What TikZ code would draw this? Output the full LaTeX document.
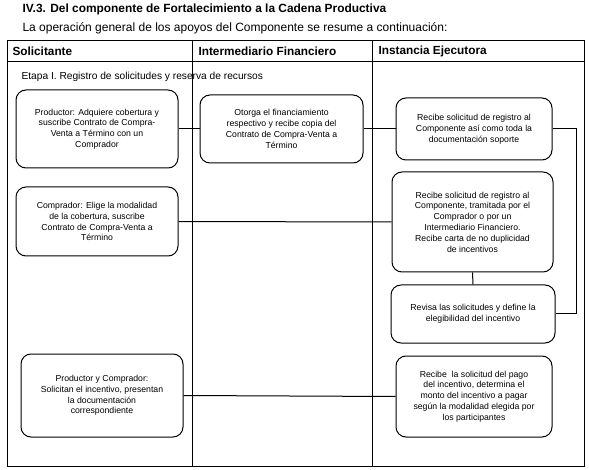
\documentclass[tikz,border=0pt]{standalone}
\usepackage{fontspec}
\setmainfont{Liberation Sans}
\usetikzlibrary{positioning}
\tikzset{
  paso/.style={draw, line width=1pt, rounded corners=10pt, align=center, inner sep=2pt,
    font=\fontsize{8.7}{10.8}\selectfont},
  enc/.style={anchor=west, font=\bfseries\fontsize{11.8}{14}\selectfont},
  liga/.style={line width=1pt}
}
\begin{document}
\begin{tikzpicture}[x=1pt, y=-1pt]
\useasboundingbox (0,0) rectangle (589,470);
% titulo
\node[anchor=west, font=\bfseries\fontsize{11.9}{14}\selectfont] (titulo) at (19,9) {IV.3. Del componente de Fortalecimiento a la Cadena Productiva};
\node[anchor=west, font=\fontsize{12}{14}\selectfont] (intro) at (19,28) {La operación general de los apoyos del Componente se resume a continuación:};
% tabla
\draw[line width=1pt] (7,41) rectangle (584,466);
\draw[line width=1pt] (7,62) -- (584,62);
\draw[line width=1pt] (192,41) -- (192,466);
\draw[line width=1pt] (372,41) -- (372,466);
\node[enc] (solic) at (9,51.5) {Solicitante};
\node[enc] (inter) at (195,51.5) {Intermediario Financiero};
\node[enc] (instan) at (375,51.5) {Instancia Ejecutora};
\node[anchor=west, font=\fontsize{10.2}{12}\selectfont] (etapa) at (18,77) {Etapa I. Registro de solicitudes y reserva de recursos};
% Solicitante
\node[paso, minimum width=162, minimum height=78] (prod) at (97,129)
  {Productor: Adquiere cobertura y\\ suscribe Contrato de Compra-\\ Venta a Término con un\\ Comprador};
\node[paso, minimum width=162, minimum height=69] (compr) at (97,221.5)
  {Comprador: Elige la modalidad\\ de la cobertura, suscribe\\ Contrato de Compra-Venta a\\ Término};
\node[paso, minimum width=162, minimum height=83] (prodcomp) at (102,395.5)
  {Productor y Comprador:\\ Solicitan el incentivo, presentan\\ la documentación\\ correspondiente};
% Intermediario
\node[paso, minimum width=163, minimum height=68] (otorga) at (281.5,129)
  {Otorga el financiamiento\\ respectivo y recibe copia del\\ Contrato de Compra-Venta a\\ Término};
% Instancia
\node[paso, minimum width=156, minimum height=62] (recibe1) at (474,129)
  {Recibe solicitud de registro al\\ Componente así como toda la\\ documentación soporte};
\node[paso, minimum width=161, minimum height=100] (recibe2) at (472.5,222)
  {Recibe solicitud de registro al\\ Componente, tramitada por el\\ Comprador o por un\\ Intermediario Financiero.\\ Recibe carta de no duplicidad\\ de incentivos};
\node[paso, minimum width=164, minimum height=58] (revisa) at (473,314)
  {Revisa las solicitudes y define la\\ elegibilidad del incentivo};
\node[paso, minimum width=156, minimum height=81] (pago) at (474,396.5)
  {Recibe\ \ la solicitud del pago\\ del incentivo, determina el\\ monto del incentivo a pagar\\ según la modalidad elegida por\\ los participantes};
% ligas
\coordinate (riel) at (576,0);
\draw[liga] (prod.east) -- (otorga.west);
\draw[liga] (otorga.east) -- (recibe1.west);
\draw[liga] (recibe1.east) -- (recibe1.east -| riel) |- (revisa.east);
\draw[liga] (compr.east) -- (recibe2.west);
\draw[liga] (recibe2.south) -- (revisa.north);
\draw[liga] (prodcomp.east) -- (pago.west);
\end{tikzpicture}
\end{document}
